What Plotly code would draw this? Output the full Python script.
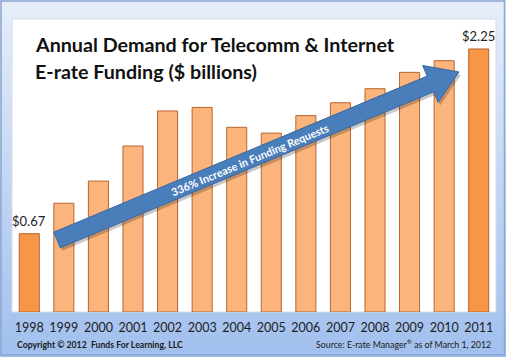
import math
import plotly.graph_objects as go

years = ["1998", "1999", "2000", "2001", "2002", "2003", "2004",
         "2005", "2006", "2007", "2008", "2009", "2010", "2011"]
demand = [0.67, 0.93, 1.12, 1.42, 1.72, 1.75, 1.58,
          1.53, 1.68, 1.79, 1.91, 2.05, 2.15, 2.25]

title_line1 = "Annual Demand for Telecomm & Internet"
title_line2 = "E-rate Funding ($ billions)"
arrow_text = "336% Increase in Funding Requests"
copyright_text = "Copyright © 2012  Funds For Learning, LLC"
source_text = "Source: E-rate Manager<sup>®</sup> as of March 1, 2012"

W, H = 506, 357
L, R, T, B = 12, 10, 19, 45
PW, PH = W - L - R, H - T - B
FONT = "Lato"


def px(x):
    return (x - L) / PW


def py(y):
    return (H - B - y) / PH


n = len(years)
light, dark = "#fbb57c", "#f79646"
colors = [dark if i in (0, n - 1) else light for i in range(n)]

fig = go.Figure(go.Bar(
    x=years, y=demand, marker=dict(color=colors, line=dict(color="#b8652e", width=1)),
    hoverinfo="skip",
))

shapes = []
# background gradient bands
top_c, bot_c = (229, 237, 249), (162, 192, 238)
nb = 40
for i in range(nb):
    t = i / (nb - 1)
    c = tuple(round(top_c[k] + (bot_c[k] - top_c[k]) * t) for k in range(3))
    y0 = i * H / nb
    y1 = (i + 1) * H / nb + 0.5
    shapes.append(dict(type="rect", xref="paper", yref="paper", layer="below",
                       x0=px(0), x1=px(W), y0=py(y1), y1=py(y0),
                       fillcolor="rgb(%d,%d,%d)" % c, line=dict(width=0)))
# outer frame border
shapes.append(dict(type="rect", xref="paper", yref="paper", layer="below",
                   x0=px(1), x1=px(W - 1.5), y0=py(H - 2), y1=py(1),
                   fillcolor="rgba(0,0,0,0)", line=dict(color="#8aa6d2", width=1.5)))
# white plot area
shapes.append(dict(type="rect", xref="paper", yref="paper", layer="below",
                   x0=0, x1=1, y0=0, y1=1, fillcolor="white",
                   line=dict(color="#d4deec", width=1)))

# arrow geometry (pixels)
tail = (57, 240)
tip = (459, 72)
dx, dy = tip[0] - tail[0], tip[1] - tail[1]
ln = math.hypot(dx, dy)
ux, uy = dx / ln, dy / ln
nx, ny = -uy, ux
w, hl, hw = 8.5, 31, 20
bcx, bcy = tip[0] - hl * ux, tip[1] - hl * uy
pts = [
    (tail[0] + w * nx, tail[1] + w * ny),
    (bcx + w * nx, bcy + w * ny),
    (bcx + hw * nx, bcy + hw * ny),
    tip,
    (bcx - hw * nx, bcy - hw * ny),
    (bcx - w * nx, bcy - w * ny),
    (tail[0] - w * nx, tail[1] - w * ny),
]


def path_of(points, ox=0, oy=0):
    s = "M " + " L ".join(f"{px(x + ox):.5f},{py(y + oy):.5f}" for x, y in points)
    return s + " Z"


shapes.append(dict(type="path", xref="paper", yref="paper", layer="above",
                   path=path_of(pts, 2, 3), fillcolor="rgba(0,0,0,0.22)", line=dict(width=0)))
shapes.append(dict(type="path", xref="paper", yref="paper", layer="above",
                   path=path_of(pts), fillcolor="#4a7ebb", line=dict(color="#3a679f", width=1)))

angle = -math.degrees(math.atan2(-dy, dx))
mx = 250
my = tail[1] + (mx - tail[0]) * dy / dx

annotations = [
    dict(text=f"<b>{title_line1}</b>", x=px(33), y=py(44), xref="paper", yref="paper",
         xanchor="left", yanchor="middle", showarrow=False,
         font=dict(family=FONT, size=19.7, color="#111111")),
    dict(text=f"<b>{title_line2}</b>", x=px(33), y=py(71), xref="paper", yref="paper",
         xanchor="left", yanchor="middle", showarrow=False,
         font=dict(family=FONT, size=19.7, color="#111111")),
    dict(text=f"<b>{arrow_text}</b>", x=px(mx), y=py(my), xref="paper", yref="paper",
         xanchor="center", yanchor="middle", showarrow=False, textangle=angle,
         font=dict(family=FONT, size=10.8, color="white")),
    dict(text=f"<b>{copyright_text}</b>", x=px(15), y=py(344), xref="paper", yref="paper",
         xanchor="left", yanchor="middle", showarrow=False,
         font=dict(family=FONT, size=8.7, color="#1a1a1a")),
    dict(text=source_text, x=px(493), y=py(344), xref="paper", yref="paper",
         xanchor="right", yanchor="middle", showarrow=False,
         font=dict(family=FONT, size=8.8, color="#1a1a1a")),
]
# value labels on first and last bars (category index positions)
for i in (0, n - 1):
    annotations.append(dict(text=f"${demand[i]:.2f}", x=i, y=demand[i],
                            xref="x", yref="y", xanchor="center", yanchor="bottom",
                            yshift=3, showarrow=False,
                            font=dict(family=FONT, size=13, color="#222222")))

fig.update_layout(
    width=W, height=H, margin=dict(l=L, r=R, t=T, b=B, pad=0),
    paper_bgcolor="#c3d6f2", plot_bgcolor="rgba(0,0,0,0)",
    bargap=0.42, showlegend=False,
    shapes=shapes, annotations=annotations,
    xaxis=dict(type="category", range=[-0.5, n - 0.5], showgrid=False, zeroline=False,
               showline=False, ticks="", ticklabelstandoff=6,
               tickfont=dict(family=FONT, size=12.5, color="#1e1e1e")),
    yaxis=dict(range=[0, PH / 116.9], visible=False, showgrid=False, zeroline=False),
)

fig.write_html("out.html", config={"displayModeBar": False},
               post_script="document.body.style.margin='0';document.body.style.overflow='hidden';")
